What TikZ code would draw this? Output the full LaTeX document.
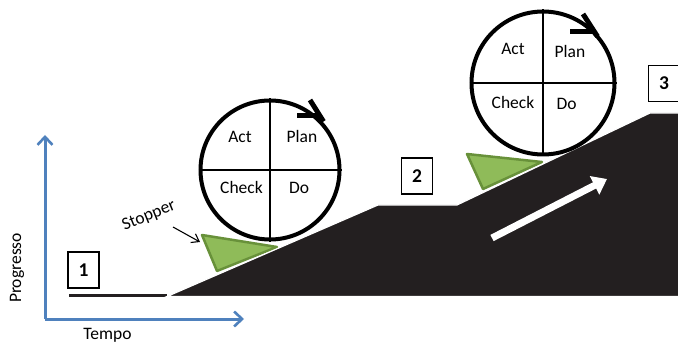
\documentclass[tikz,border=0pt]{standalone}
\usepackage{fontspec}
\setmainfont{Carlito}
\usetikzlibrary{arrows.meta}
\definecolor{axisblue}{RGB}{79,129,189}
\definecolor{rampblack}{RGB}{35,31,32}
\definecolor{stopfill}{RGB}{143,187,89}
\definecolor{stopedge}{RGB}{104,145,58}

\begin{document}
\begin{tikzpicture}[x=1pt,y=-1pt,
  lbl/.style={font=\fontsize{17.5}{20}\selectfont, inner sep=0pt},
  numbox/.style={draw=black, line width=1.3pt, fill=white, minimum width=31pt,
    minimum height=36pt, inner sep=0pt, font=\bfseries\fontsize{19.5}{22}\selectfont},
  wheel/.style={circle, draw=black, line width=4pt, fill=white, inner sep=0pt},
  divider/.style={draw=black, line width=2pt},
  turn/.style={draw=black, line width=5pt},
  stopper/.style={fill=stopfill, draw=stopedge, line width=2.5pt, line join=round},
  axis/.style={draw=axisblue, line width=3pt,
    -{Straight Barb[length=8pt,width=15pt,line width=2.6pt]}},
]
\useasboundingbox (0,0) rectangle (678,342);
\clip (0,0) rectangle (678,342);

% axes
\coordinate (origin) at (45,319);
\coordinate (yend) at (45,135);
\coordinate (xend) at (244,319);
\draw[axis] (origin) -- (yend);
\draw[axis] (origin) -- (xend);
\node[lbl, rotate=90, anchor=base] (ylabel) at (21,268) {Progresso};
\node[lbl, anchor=base] (xlabel) at (107.5,339) {Tempo};

% stoppers (drawn below the ramp so the ramp outline separates them)
\path[stopper] (202,235) -- (277,247) -- (217,271) -- cycle;
\path[stopper] (467,154) -- (542,162) -- (483,189) -- cycle;

% the ramp
\fill[rampblack] (69,293.5) -- (167,293.5) -- (167,296.5) -- (69,296.5) -- cycle;
\path[fill=rampblack, draw=white, line width=1.2pt, line join=miter]
  (167,296.5) -- (378,205) -- (457,205) -- (650,113) -- (690,113)
  -- (690,296.5) -- cycle;

% progress arrow on the ramp
\coordinate (pa) at (492,238);
\coordinate (pb) at (607,179);
\draw[white, line width=7pt, -{Triangle[length=14pt,width=20pt]}] (pa) -- (pb);

% first PDCA wheel
\node[wheel, minimum size=139pt] (w1) at (270,170) {};
\draw[divider] (w1.north) -- (w1.south);
\draw[divider] (w1.west) -- (w1.east);
\draw[turn] (310,100) -- (323.5,121.5);
\draw[turn] (297,115.5) -- (320,115.5);
\node[lbl, anchor=base] (act1) at (240,142.3) {Act};
\node[lbl, anchor=base] (plan1) at (302,142.7) {Plan};
\node[lbl, anchor=base] (check1) at (241.5,193.3) {Check};
\node[lbl, anchor=base] (do1) at (299,194) {Do};

% second PDCA wheel
\node[wheel, minimum size=143pt] (w2) at (543,83) {};
\draw[divider] (w2.north) -- (w2.south);
\draw[divider] (w2.west) -- (w2.east);
\draw[turn] (583,14) -- (597.5,36.5);
\draw[turn] (570,32) -- (594,32);
\node[lbl, anchor=base] (act2) at (513,54.3) {Act};
\node[lbl, anchor=base] (plan2) at (570,57.3) {Plan};
\node[lbl, anchor=base] (check2) at (513,108.3) {Check};
\node[lbl, anchor=base] (do2) at (566.7,109.3) {Do};

% stopper label
\node[lbl, rotate=22] (stoplbl) at (149,216) {Stopper};
\coordinate (sa) at (173,227);
\coordinate (sb) at (200,242);
\draw[line width=1.1pt, -{Straight Barb[length=7pt,width=10pt]}] (sa) -- (sb);

% stage numbers
\node[numbox] (n1) at (83.5,270) {1};
\node[numbox] (n2) at (417,176) {2};
\node[numbox] (n3) at (664,83.5) {3};
\end{tikzpicture}
\end{document}
